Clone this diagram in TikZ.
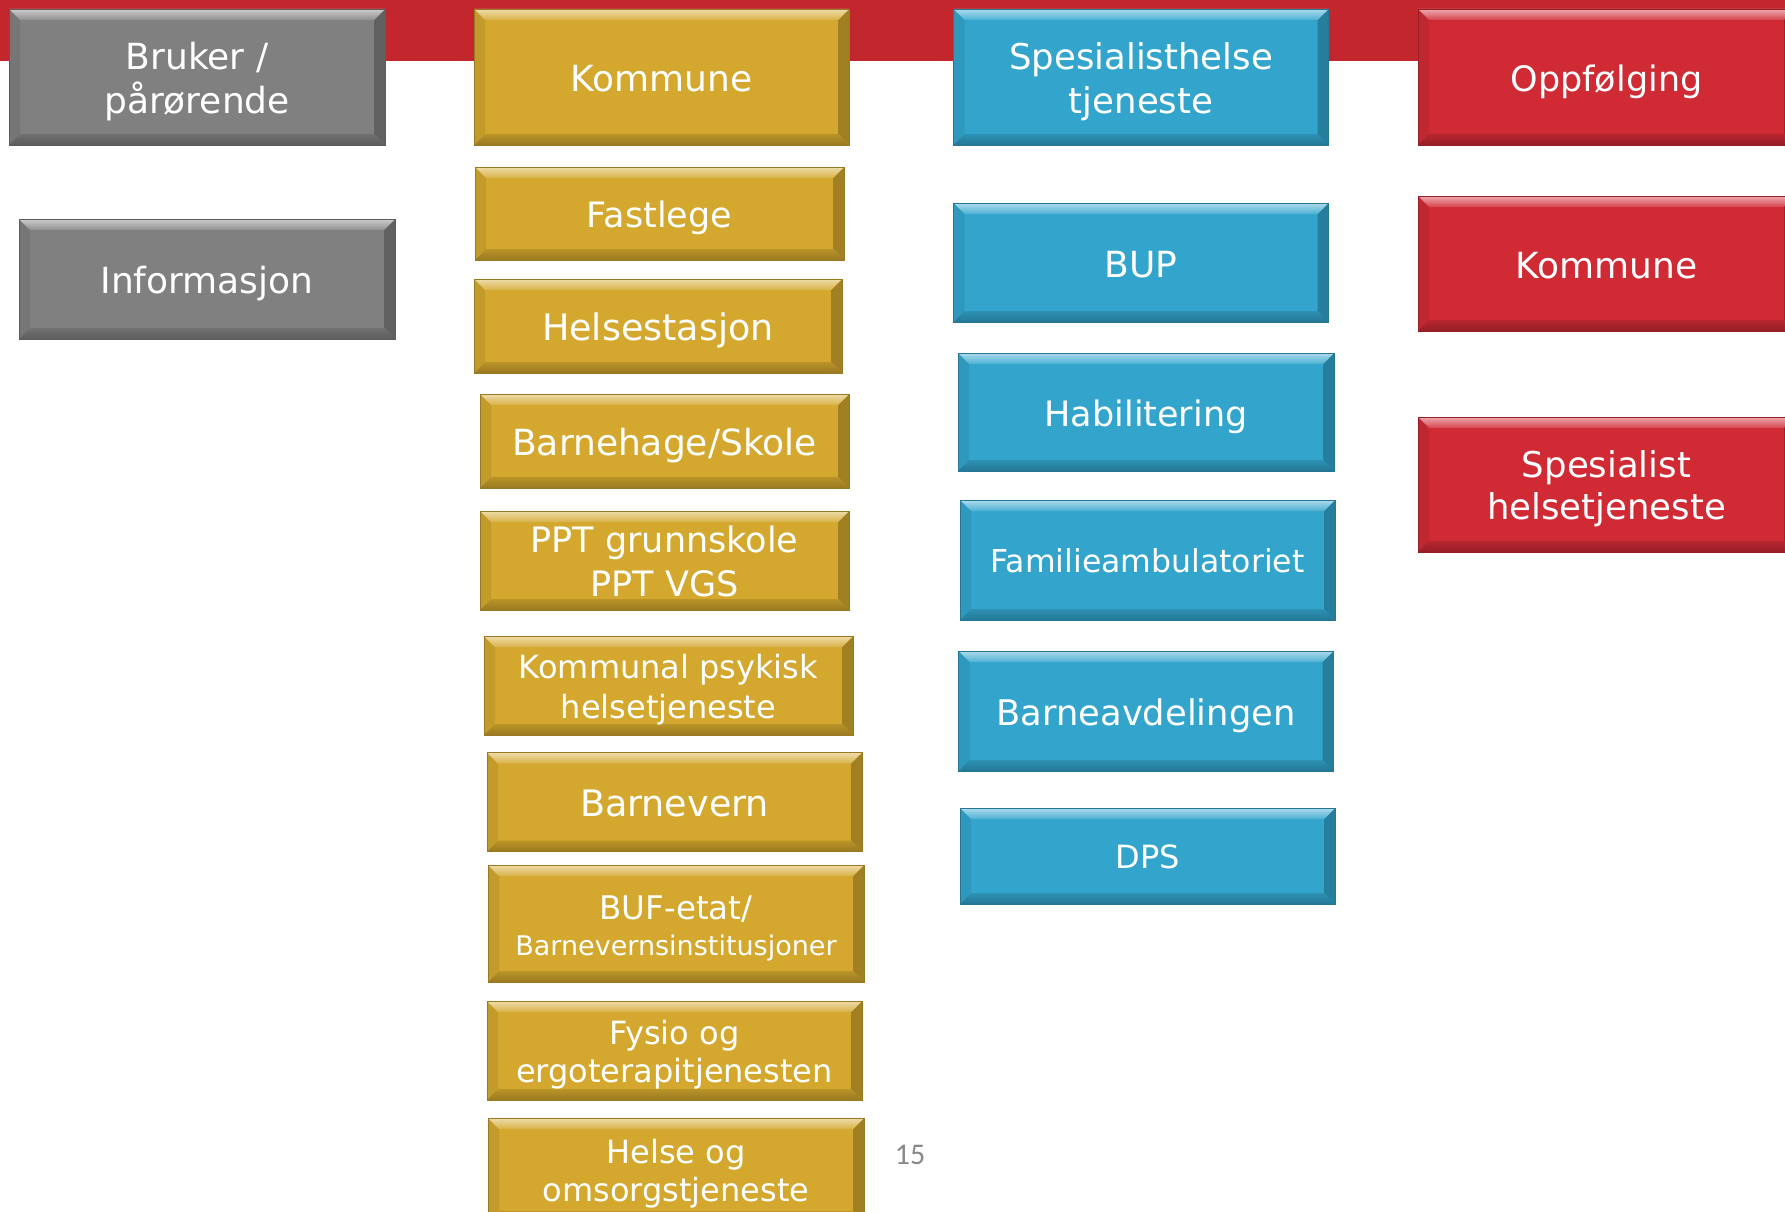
\documentclass[tikz,border=0pt]{standalone}
\usepackage{fontspec}
\setmainfont{DejaVu Sans}
\newfontfamily\numfont{Carlito}
\definecolor{bandred}{RGB}{193,39,45}
\definecolor{cgray}{RGB}{128,128,128}
\definecolor{cgold}{RGB}{212,168,46}
\definecolor{cblue}{RGB}{51,165,205}
\definecolor{cred}{RGB}{208,42,53}
\definecolor{pgnum}{RGB}{137,137,137}
\newcommand{\fs}[2]{\fontsize{#1}{#2}\selectfont}
\newcommand{\tstrut}{\rule{0pt}{1.11em}}
\newcommand{\bstrut}{\rule[-0.3em]{0pt}{0.3em}}
\tikzset{
  bevbox/.style={rectangle, inner sep=0pt, outer sep=0pt, fill=#1,
    draw=#1!72!black, line width=0.8pt, text=white, align=center,
    font=\fs{36}{44},
    path picture={
      \fill[#1!92!black]
        (path picture bounding box.north west) -- (path picture bounding box.south west)
        -- ([shift={(11pt,11pt)}]path picture bounding box.south west)
        -- ([shift={(11pt,-11pt)}]path picture bounding box.north west) -- cycle;
      \fill[#1!76!black]
        (path picture bounding box.north east) -- (path picture bounding box.south east)
        -- ([shift={(-11pt,11pt)}]path picture bounding box.south east)
        -- ([shift={(-11pt,-11pt)}]path picture bounding box.north east) -- cycle;
      \shade[top color=#1!40!white, bottom color=#1!88!white]
        (path picture bounding box.north west) -- (path picture bounding box.north east)
        -- ([shift={(-11pt,-11pt)}]path picture bounding box.north east)
        -- ([shift={(11pt,-11pt)}]path picture bounding box.north west) -- cycle;
      \shade[top color=#1!88!black, bottom color=#1!72!black]
        (path picture bounding box.south west) -- (path picture bounding box.south east)
        -- ([shift={(-11pt,11pt)}]path picture bounding box.south east)
        -- ([shift={(11pt,11pt)}]path picture bounding box.south west) -- cycle;
    }},
  pagenum/.style={text=pgnum, font=\numfont\fs{30}{36}, inner sep=0pt}
}
\begin{document}
\begin{tikzpicture}[x=1pt,y=-1pt]
\useasboundingbox (0,0) rectangle (1785,1212);
\clip (0,0) rectangle (1785,1212);
\fill[white] (0,0) rectangle (1785,1212);
\fill[bandred] (0,0) rectangle (1785,61);

% gray column
\node[bevbox=cgray, minimum width=376pt, minimum height=136pt] (bruker) at (197,77) {\tstrut Bruker /\\pårørende\bstrut};
\node[bevbox=cgray, minimum width=376pt, minimum height=120pt] (info) at (207,279) {\tstrut Informasjon\bstrut};

% gold column
\node[bevbox=cgold, minimum width=375pt, minimum height=136pt] (kommune) at (661.5,77) {\tstrut Kommune\bstrut};
\node[bevbox=cgold, minimum width=369pt, minimum height=93pt, font=\fs{35}{42}] (fastlege) at (659.5,213.5) {\tstrut Fastlege\bstrut};
\node[bevbox=cgold, minimum width=368pt, minimum height=94pt, font=\fs{36.5}{44}] (helsestasjon) at (658,326) {\tstrut Helsestasjon\bstrut};
\node[bevbox=cgold, minimum width=369pt, minimum height=94pt] (barnehage) at (664.5,441) {\tstrut Barnehage/Skole\bstrut};
\node[bevbox=cgold, minimum width=369pt, minimum height=99pt, font=\fs{35}{44}] (ppt) at (664.5,560.5) {\tstrut PPT grunnskole\\PPT VGS\bstrut};
\node[bevbox=cgold, minimum width=369pt, minimum height=99pt, font=\fs{32}{40}] (psykisk) at (668.5,685.5) {\tstrut Kommunal psykisk\\helsetjeneste\bstrut};
\node[bevbox=cgold, minimum width=375pt, minimum height=99pt, font=\fs{36.5}{44}] (barnevern) at (674.5,802) {\tstrut Barnevern\bstrut};
\node[bevbox=cgold, minimum width=376pt, minimum height=117pt, font=\fs{32.5}{36}] (buf) at (676,923.5) {\tstrut BUF-etat/\\{\fs{27}{35}Barnevernsinstitusjoner\bstrut}};
\node[bevbox=cgold, minimum width=375pt, minimum height=99pt, font=\fs{32}{38}] (fysio) at (674.5,1050.5) {\tstrut Fysio og\\ergoterapitjenesten\bstrut};
\node[bevbox=cgold, minimum width=376pt, minimum height=104pt, font=\fs{32}{38}] (helse) at (676,1170) {\tstrut Helse og\\omsorgstjeneste\bstrut};

% blue column
\node[bevbox=cblue, minimum width=375pt, minimum height=136pt, font=\fs{35.5}{44}] (spes) at (1141,77) {\tstrut Spesialisthelse\\tjeneste\bstrut};
\node[bevbox=cblue, minimum width=375pt, minimum height=119pt] (bup) at (1141,262.5) {\tstrut BUP\bstrut};
\node[bevbox=cblue, minimum width=376pt, minimum height=118pt, font=\fs{35}{42}] (habil) at (1146,412) {\tstrut Habilitering\bstrut};
\node[bevbox=cblue, minimum width=375pt, minimum height=120pt, font=\fs{31.5}{38}] (famil) at (1147.5,560) {\tstrut Familieambulatoriet\bstrut};
\node[bevbox=cblue, minimum width=375pt, minimum height=120pt, font=\fs{35.3}{42}] (barneavd) at (1146,711) {\tstrut Barneavdelingen\bstrut};
\node[bevbox=cblue, minimum width=375pt, minimum height=96pt, font=\fs{32}{38}] (dps) at (1147.5,856) {\tstrut DPS\bstrut};

% red column
\node[bevbox=cred, minimum width=377pt, minimum height=136pt, font=\fs{35}{42}] (oppf) at (1606.5,77) {\tstrut Oppfølging\bstrut};
\node[bevbox=cred, minimum width=377pt, minimum height=135pt] (kommune2) at (1606.5,263.5) {\tstrut Kommune\bstrut};
\node[bevbox=cred, minimum width=377pt, minimum height=135pt, font=\fs{35.5}{42}] (spes2) at (1606.5,484.5) {\tstrut Spesialist\\helsetjeneste\bstrut};

% page number
\node[pagenum] (pnum) at (910,1155) {15};
\end{tikzpicture}
\end{document}
